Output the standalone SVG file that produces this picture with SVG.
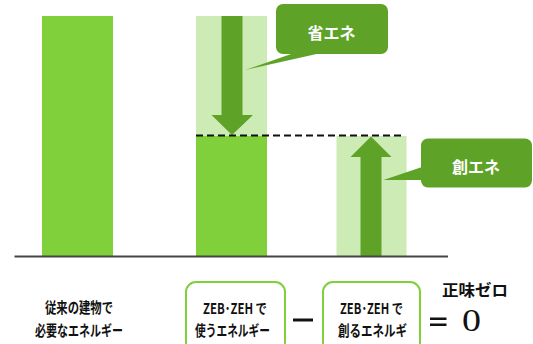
<svg xmlns="http://www.w3.org/2000/svg" width="533" height="344" viewBox="0 0 533 344">
<style>
.bar{fill:#7fd03b}
.light{fill:#cdecb5}
.dark{fill:#5fa228}
.cl{fill:#ffffff;font-family:"Noto Sans CJK JP","Noto Sans",sans-serif;font-weight:bold;font-size:16px;text-anchor:middle}
.lb{fill:#111111;font-family:"Noto Sans CJK JP","Noto Sans",sans-serif;font-weight:bold;font-size:15px;text-anchor:middle}
.box{fill:#ffffff;stroke:#80d03c;stroke-width:2}
</style>
<rect width="533" height="344" fill="#ffffff"/>
<g id="bar-conventional">
<rect class="bar" x="42" y="16" width="71" height="240"/>
</g>
<g id="bar-zeh-use">
<rect class="light" x="196" y="16" width="71" height="120"/>
<rect class="bar" x="196" y="136" width="71" height="120"/>
</g>
<g id="bar-zeh-create">
<rect class="light" x="336.5" y="136" width="70" height="120"/>
</g>
<g id="connectors">
<polygon class="dark" points="221.5,16 242.5,16 242.5,115 253,115 232,135 211.5,115 221.5,115"/>
<polygon class="dark" points="360.5,256 381.5,256 381.5,157 391.5,157 371,136.5 350.5,157 360.5,157"/>
<line x1="196" y1="135.5" x2="402" y2="135.5" stroke="#111" stroke-width="2" stroke-dasharray="7,4"/>
<line x1="14.5" y1="256.5" x2="448" y2="256.5" stroke="#444" stroke-width="2"/>
</g>
<g id="callout-shoene">
<rect class="dark" x="276" y="4" width="112" height="50" rx="7"/>
<polygon class="dark" points="294,53 245,70 321,53"/>
<text class="cl" x="331.5" y="39">省エネ</text>
</g>
<g id="callout-soene">
<rect class="dark" x="421" y="138.5" width="111" height="49" rx="7"/>
<polygon class="dark" points="422,167 383.5,180 422,180"/>
<text class="cl" x="476" y="172.5">創エネ</text>
</g>
<g id="label-conventional">
<text class="lb" x="79" y="313" textLength="68" lengthAdjust="spacingAndGlyphs">従来の建物で</text>
<text class="lb" x="79" y="336" textLength="88" lengthAdjust="spacingAndGlyphs">必要なエネルギー</text>
</g>
<g id="box-use">
<rect class="box" x="186" y="282" width="99" height="70" rx="10"/>
<text class="lb" x="235" y="313.5" textLength="64" lengthAdjust="spacingAndGlyphs">ZEB･ZEH で</text>
<text class="lb" x="232.5" y="336" textLength="75" lengthAdjust="spacingAndGlyphs">使うエネルギー</text>
</g>
<g id="minus">
<rect x="293" y="318.5" width="20" height="3" fill="#111"/>
</g>
<g id="box-create">
<rect class="box" x="323" y="282" width="97" height="70" rx="10"/>
<text class="lb" x="371.5" y="313.5" textLength="63" lengthAdjust="spacingAndGlyphs">ZEB･ZEH で</text>
<text class="lb" x="372.5" y="336" textLength="69" lengthAdjust="spacingAndGlyphs">創るエネルギ</text>
</g>
<g id="result">
<text x="475" y="295.5" fill="#111" font-family="'Noto Sans CJK JP','Noto Sans',sans-serif" font-weight="bold" font-size="16" text-anchor="middle" textLength="66" lengthAdjust="spacingAndGlyphs">正味ゼロ</text>
<rect x="430" y="317.5" width="16.5" height="2.5" fill="#111"/>
<rect x="430" y="323.5" width="16.5" height="2.5" fill="#111"/>
<text x="471.5" y="331" fill="#111" font-family="'Liberation Serif',serif" font-size="31" text-anchor="middle" textLength="19" lengthAdjust="spacingAndGlyphs">0</text>
</g>
</svg>
